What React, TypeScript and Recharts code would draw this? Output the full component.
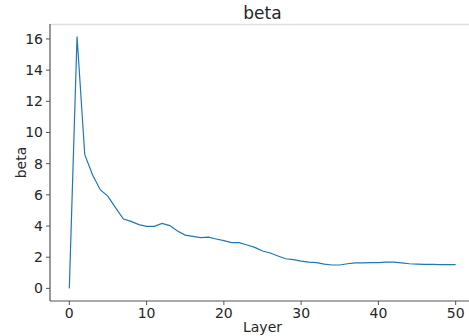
import { LineChart, Line, XAxis, YAxis, Label } from 'recharts'

const layers = Array.from({ length: 51 }, (_, i) => i)
const betaValues = [
  0, 16.16, 8.58, 7.29, 6.33, 5.9, 5.16, 4.45, 4.3, 4.09,
  3.98, 3.98, 4.17, 4.03, 3.68, 3.42, 3.34, 3.25, 3.29, 3.17,
  3.06, 2.93, 2.93, 2.78, 2.63, 2.4, 2.27, 2.08, 1.9, 1.84,
  1.75, 1.69, 1.65, 1.56, 1.5, 1.5, 1.58, 1.63, 1.63, 1.65,
  1.65, 1.69, 1.69, 1.63, 1.58, 1.56, 1.54, 1.54, 1.52, 1.52,
  1.52,
]
const xTicks = [0, 10, 20, 30, 40, 50]
const yTicks = [0, 2, 4, 6, 8, 10, 12, 14, 16]

const data = layers.map((l, i) => ({ layer: l, beta: betaValues[i] }))

const font = 'DejaVu Sans'
const tickStyle = { fill: '#262626', fontSize: 14, fontFamily: font }

export default function App() {
  return (
    <div style={{ position: 'absolute', left: 0, top: 0, width: 469, height: 336, overflow: 'hidden', background: '#fff' }}>
      <LineChart width={476} height={336} data={data} margin={{ top: 24, right: 1, bottom: 0, left: 0 }}>
        <text x={262.5} y={19} textAnchor="middle" fontSize={17} fontFamily={font} fill="#262626">
          beta
        </text>
        <line x1={50} y1={24.5} x2={476} y2={24.5} stroke="#e0e0e0" strokeWidth={1.5} />
        <XAxis
          dataKey="layer"
          type="number"
          domain={[-2.5, 52.5]}
          ticks={xTicks}
          tick={tickStyle}
          tickSize={4}
          tickMargin={3}
          stroke="#555"
          axisLine={{ stroke: '#555', strokeWidth: 1.2 }}
          height={35}
        >
          <Label value="Layer" position="insideBottom" offset={4} style={{ fontSize: 14, fontFamily: font, fill: '#262626' }} />
        </XAxis>
        <YAxis
          type="number"
          domain={[-0.81, 16.96]}
          ticks={yTicks}
          tick={tickStyle}
          tickSize={4}
          tickMargin={3}
          stroke="#555"
          axisLine={{ stroke: '#555', strokeWidth: 1.2 }}
          width={50}
          allowDataOverflow
        >
          <Label value="beta" angle={-90} position="insideLeft" offset={21} style={{ fontSize: 14, fontFamily: font, fill: '#262626', textAnchor: 'middle' }} />
        </YAxis>
        <Line type="linear" dataKey="beta" stroke="#1f77b4" strokeWidth={1.2} dot={false} isAnimationActive={false} />
      </LineChart>
    </div>
  )
}
